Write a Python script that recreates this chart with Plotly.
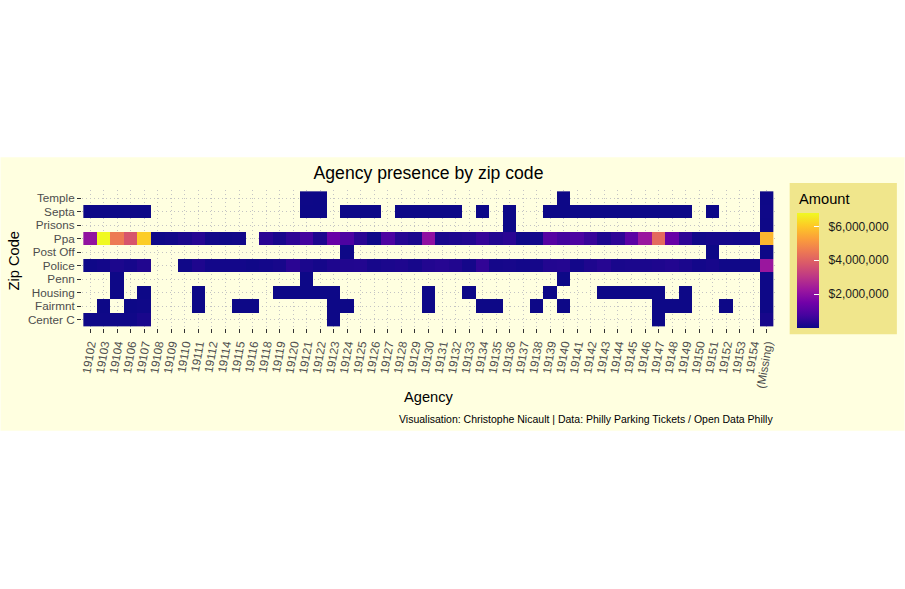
import plotly.graph_objects as go

N = None

# ---------------- data ----------------
zip_codes = ["19102", "19103", "19104", "19106", "19107", "19108", "19109", "19110", "19111", "19112",
             "19114", "19115", "19116", "19118", "19119", "19120", "19121", "19122", "19123", "19124",
             "19125", "19126", "19127", "19128", "19129", "19130", "19131", "19132", "19133", "19134",
             "19135", "19136", "19137", "19138", "19139", "19140", "19141", "19142", "19143", "19144",
             "19145", "19146", "19147", "19148", "19149", "19150", "19151", "19152", "19153", "19154",
             "(Missing)"]

agencies = ["Center C", "Fairmnt", "Housing", "Penn", "Police", "Post Off", "Ppa", "Prisons", "Septa", "Temple"]

# amounts in millions of dollars, one entry per zip code (None = no tickets)
center_c = [0.05, 0.05, 0.06, 0.06, 0.18, N, N, N, N, N,
            N, N, N, N, N, N, N, N, 0.02, N,
            N, N, N, N, N, N, N, N, N, N,
            N, N, N, N, N, N, N, N, N, N,
            N, N, 0.02, N, N, N, N, N, N, N,
            0.15]
fairmnt = [N, 0.02, N, 0.02, 0.04, N, N, N, 0.02, N,
           N, 0.02, 0.02, N, N, N, N, N, 0.02, 0.02,
           N, N, N, N, N, 0.02, N, N, N, 0.02,
           0.02, N, N, 0.02, N, 0.02, N, N, N, N,
           N, N, 0.02, 0.02, 0.02, N, N, 0.02, N, N,
           0.03]
housing = [N, N, 0.03, N, 0.02, N, N, N, 0.02, N,
           N, N, N, N, 0.02, 0.02, 0.02, 0.02, 0.02, N,
           N, N, N, N, N, 0.02, N, N, 0.02, N,
           N, N, N, N, 0.02, N, N, N, 0.02, 0.02,
           0.02, 0.02, 0.02, N, 0.02, N, N, N, N, N,
           0.03]
penn = [N, N, 0.03, N, N, N, N, N, N, N,
        N, N, N, N, N, N, 0.02, N, N, N,
        N, N, N, N, N, N, N, N, N, N,
        N, N, N, N, N, 0.02, N, N, N, N,
        N, N, N, N, N, N, N, N, N, N,
        0.03]
police = [0.05, 0.10, 0.22, 0.14, 0.28, N, N, 0.06, 0.25, 0.10,
          0.10, 0.10, 0.06, 0.10, 0.15, 0.40, 0.20, 0.12, 0.25, 0.28,
          0.30, 0.15, 0.20, 0.25, 0.15, 0.30, 0.35, 0.28, 0.12, 0.50,
          0.12, 0.15, 0.10, 0.12, 0.30, 0.32, 0.10, 0.25, 0.35, 0.18,
          0.20, 0.20, 0.25, 0.30, 0.20, 0.10, 0.15, 0.06, 0.06, 0.06,
          2.25]
post_off = [N, N, N, N, N, N, N, N, N, N,
            N, N, N, N, N, N, N, N, N, 0.03,
            N, N, N, N, N, N, N, N, N, N,
            N, N, N, N, N, N, N, N, N, N,
            N, N, N, N, N, N, 0.02, N, N, N,
            0.03]
ppa = [2.10, 6.80, 4.55, 3.75, 6.10, 0.05, 0.08, 0.20, 0.35, 0.08,
       0.06, 0.08, N, 0.40, 0.18, 0.45, 0.75, 0.25, 1.35, 0.90,
       0.40, 0.05, 0.90, 0.35, 0.22, 2.05, 0.18, 0.25, 0.30, 0.55,
       0.30, 0.40, 0.04, 0.10, 1.05, 0.75, 0.90, 0.60, 0.25, 0.45,
       1.15, 2.25, 4.20, 1.35, 0.45, 0.08, 0.12, 0.12, 0.10, 0.10,
       5.70]
prisons = [N, N, N, N, N, N, N, N, N, N,
           N, N, N, N, N, N, N, N, N, N,
           N, N, N, N, N, N, N, N, N, N,
           N, 0.02, N, N, N, N, N, N, N, N,
           N, N, N, N, N, N, N, N, N, N,
           0.03]
septa = [0.02, 0.02, 0.02, 0.03, 0.02, N, N, N, N, N,
         N, N, N, N, N, N, 0.02, 0.02, N, 0.02,
         0.02, 0.02, N, 0.02, 0.02, 0.02, 0.02, 0.02, N, 0.02,
         N, 0.02, N, N, 0.02, 0.02, 0.02, 0.02, 0.02, 0.02,
         0.02, 0.02, 0.02, 0.02, 0.02, N, 0.02, N, N, N,
         0.04]
temple = [N, N, N, N, N, N, N, N, N, N,
          N, N, N, N, N, N, 0.03, 0.02, N, N,
          N, N, N, N, N, N, N, N, N, N,
          N, N, N, N, N, 0.02, N, N, N, N,
          N, N, N, N, N, N, N, N, N, N,
          0.03]

rows_musd = [center_c, fairmnt, housing, penn, police, post_off, ppa, prisons, septa, temple]

legend_tick_values = [2000000, 4000000, 6000000]
legend_tick_labels = ["$2,000,000", "$4,000,000", "$6,000,000"]

# ---------------- build ----------------
for r in rows_musd:
    assert len(r) == len(zip_codes)
z = [[(v * 1e6 if v is not None else None) for v in r] for r in rows_musd]

W, H = 905, 589
L, R, T, B = 81.6, 775.3, 189.9, 328.1   # plot area in pixels
PW, PH = R - L, B - T


def px(xp):
    return (xp - L) / PW


def py(yp):
    return (B - yp) / PH


FONT = "Liberation Sans, Arial, sans-serif"
BG = "#FFFFE0"
LEG_BG = "#F0E68C"
NBSP = "\u00a0"

# legend geometry (pixels)
BAR_L, BAR_TOP, BAR_BOT, BAR_W = 797.7, 212.7, 327.7, 22

fig = go.Figure(go.Heatmap(
    z=z, x=zip_codes, y=agencies,
    colorscale="Plasma",
    xgap=0, ygap=0,
    hoverongaps=False,
    colorbar=dict(
        bgcolor="rgba(0,0,0,0)",
        x=px(BAR_L), xanchor="left",
        y=py(BAR_TOP), yanchor="top",
        lenmode="pixels", len=BAR_BOT - BAR_TOP,
        thicknessmode="pixels", thickness=BAR_W,
        xpad=0, ypad=0,
        outlinewidth=0,
        ticks="inside", ticklen=5, tickcolor="#FFFFFF", tickwidth=1,
        tickvals=legend_tick_values,
        ticktext=[NBSP * 2 + t for t in legend_tick_labels],
        tickfont=dict(family=FONT, size=12, color="#1a1a1a"),
    ),
))

axis_common = dict(
    type="category",
    showgrid=True, gridcolor="#c4c4c4", griddash="1px,3px", gridwidth=1,
    zeroline=False, showline=False,
    ticks="outside", ticklen=4, tickwidth=1, tickcolor="#333333",
    tickfont=dict(family=FONT, size=11.7, color="#4d4d4d"),
)

fig.update_layout(
    width=W, height=H,
    margin=dict(l=L, r=W - R, t=T, b=H - B, autoexpand=False),
    paper_bgcolor="#FFFFFF",
    plot_bgcolor=BG,
    font=dict(family=FONT),
    xaxis=dict(axis_common, categoryorder="array", categoryarray=zip_codes,
               tickmode="array", tickvals=zip_codes, ticktext=zip_codes,
               range=[-0.6, len(zip_codes) - 0.4], tickangle=-80),
    yaxis=dict(axis_common, categoryorder="array", categoryarray=agencies,
               tickmode="array", tickvals=agencies, ticktext=agencies,
               range=[-0.6, len(agencies) - 0.4]),
    title=dict(text="Agency presence by zip code", x=px((L + R) / 2), xref="paper", xanchor="center",
               y=1 - 173 / H, yref="container", yanchor="middle",
               font=dict(family=FONT, size=17.6, color="#000000")),
    shapes=[
        dict(type="rect", xref="paper", yref="paper", layer="below",
             x0=px(0), x1=px(W), y0=py(431), y1=py(157),
             fillcolor=BG, line=dict(width=0)),
        dict(type="rect", xref="paper", yref="paper", layer="below",
             x0=px(790), x1=px(897.3), y0=py(334.3), y1=py(183),
             fillcolor=LEG_BG, line=dict(width=0)),
    ],
    annotations=[
        dict(text="Amount", x=px(797.7), y=py(199), xref="paper", yref="paper",
             showarrow=False, xanchor="left", yanchor="middle",
             font=dict(family=FONT, size=14.67, color="#000000")),
        dict(text="Zip Code", x=px(14), y=py(261), xref="paper", yref="paper",
             textangle=-90, showarrow=False, xanchor="center", yanchor="middle",
             font=dict(family=FONT, size=14.67, color="#000000")),
        dict(text="Agency", x=0.5, y=py(397.5), xref="paper", yref="paper",
             showarrow=False, xanchor="center", yanchor="middle",
             font=dict(family=FONT, size=14.67, color="#000000")),
        dict(text="Visualisation: Christophe Nicault | Data: Philly Parking Tickets / Open Data Philly",
             x=1, y=py(419), xref="paper", yref="paper",
             showarrow=False, xanchor="right", yanchor="middle",
             font=dict(family=FONT, size=10.5, color="#000000")),
    ],
)

fig.write_html("out.html")
